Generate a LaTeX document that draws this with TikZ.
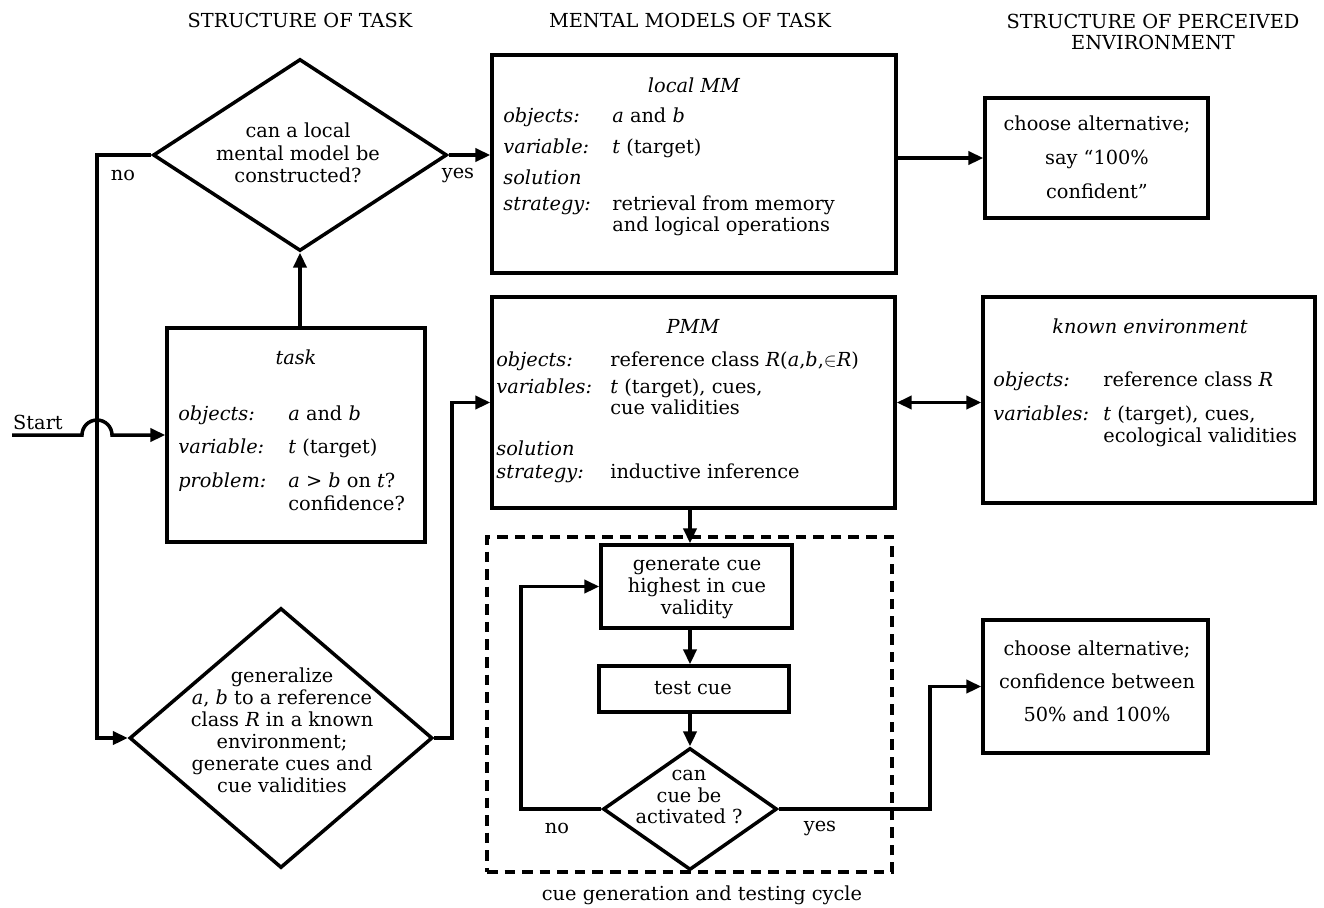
\documentclass[tikz,border=0pt]{standalone}
\usepackage{fontspec}
\setmainfont{DejaVu Serif}
\usetikzlibrary{shapes.geometric,arrows.meta,fit}
\newcommand\myfs{\fontsize{11}{12.8}\selectfont}
\begin{document}
\begin{tikzpicture}[x=0.02cm,y=-0.02cm,
  box/.style={draw, line width=2pt, inner sep=0pt},
  dashbox/.style={draw, line width=2pt, inner sep=0pt, dash pattern=on 6pt off 4pt},
  dia/.style={draw, diamond, line width=2pt, inner sep=0pt},
  conn/.style={line width=2pt, -{Triangle[length=8.5pt,width=7.5pt]}},
  dconn/.style={line width=2pt, {Triangle[length=8.5pt,width=7.5pt]}-{Triangle[length=8.5pt,width=7.5pt]}},
  txt/.style={inner sep=0pt, font=\myfs},
  ttl/.style={inner sep=0pt, font=\myfs\itshape, anchor=base},
  lab/.style={inner sep=0pt, font=\myfs\itshape, anchor=base west},
  val/.style={inner sep=0pt, font=\myfs, anchor=base west}]
\useasboundingbox (0,0) rectangle (1324,907);

% headers
\node[txt] (h1) at (300,20) {STRUCTURE OF TASK};
\node[txt] (h2) at (690,20) {MENTAL MODELS OF TASK};
\node[txt, align=center, font=\fontsize{11}{12}\selectfont] (h3) at (1153,32) {STRUCTURE OF PERCEIVED\\ENVIRONMENT};

% top diamond
\node[dia, minimum width=5.88cm, minimum height=3.84cm] (q1) at (300,155) {};
\node[txt, align=center] (q1t) at (298,153) {can a local\\mental model be\\constructed?};
\node[txt] (no1) at (123,175) {no};
\node[txt] (yes1) at (458,175) {yes};

% task box
\node[box, fit={(167,328)(425,542)}] (task) {};
\node[ttl] (taskT) at (296,364) {task};
\node[lab] (tl1) at (178,420) {objects:};
\node[val] (tv1) at (288,420) {\textit{a} and \textit{b}};
\node[lab] (tl2) at (178,453) {variable:};
\node[val] (tv2) at (288,453) {\textit{t} (target)};
\node[lab] (tl3) at (178,487) {problem:};
\node[val] (tv3) at (288,487) {\textit{a} > \textit{b} on \textit{t}?};
\node[val] (tv4) at (288,510) {confidence?};

% start
\node[txt] (start) at (38,422) {Start};
\coordinate (st) at (12,435);

% bottom diamond
\node[dia, minimum width=6.06cm, minimum height=5.2cm] (q2) at (281,738) {};
\node[txt, align=center, font=\fontsize{11}{12.5}\selectfont] (q2t) at (282,730) {generalize\\\textit{a}, \textit{b} to a reference\\class \textit{R} in a known\\environment;\\generate cues and\\cue validities};

% local MM
\node[box, fit={(492,55)(896,273)}] (lmm) {};
\node[ttl] (lmmT) at (694,92) {local MM};
\node[lab] (ll1) at (503,122) {objects:};
\node[val] (lv1) at (612,122) {\textit{a} and \textit{b}};
\node[lab] (ll2) at (503,153) {variable:};
\node[val] (lv2) at (612,153) {\textit{t} (target)};
\node[lab] (ll3) at (503,184) {solution};
\node[lab] (ll4) at (503,210) {strategy:};
\node[val] (lv3) at (612,210) {retrieval from memory};
\node[val] (lv4) at (612,231) {and logical operations};

% choose 1
\node[box, fit={(985,98)(1208,218)}] (ch1) {};
\node[txt, align=center, font=\fontsize{11}{19.3}\selectfont] (ch1t) at (1097,157) {choose alternative;\\say “100\%\\confident”};

% PMM
\node[box, fit={(492,297)(895,508)}] (pmm) {};
\node[ttl] (pmmT) at (693,333) {PMM};
\node[lab] (pl1) at (496,366) {objects:};
\node[val] (pv1) at (610,366) {reference class \textit{R}(\textit{a},\textit{b},$\in$\textit{R})};
\node[lab] (pl2) at (496,393) {variables:};
\node[val] (pv2) at (610,393) {\textit{t} (target), cues,};
\node[val] (pv3) at (610,414) {cue validities};
\node[lab] (pl3) at (496,455) {solution};
\node[lab] (pl4) at (496,478) {strategy:};
\node[val] (pv4) at (610,478) {inductive inference};

% known environment
\node[box, fit={(983,297)(1315,503)}] (known) {};
\node[ttl] (knT) at (1150,333) {known environment};
\node[lab] (kl1) at (993,386) {objects:};
\node[val] (kv1) at (1103,386) {reference class \textit{R}};
\node[lab] (kl2) at (993,420) {variables:};
\node[val] (kv2) at (1103,420) {\textit{t} (target), cues,};
\node[val] (kv3) at (1103,442) {ecological validities};

% cycle
\node[dashbox, fit={(487,537)(892,872)}] (cyc) {};
\node[txt] (cap) at (702,895) {cue generation and testing cycle};
\node[box, fit={(601,545)(792,628)}] (gen) {};
\node[txt, align=center, font=\fontsize{11}{12.3}\selectfont] (gent) at (697,588) {generate cue\\highest in cue\\validity};
\node[box, fit={(599,666)(789,712)}] (test) {};
\node[txt] (testt) at (693,688) {test cue};
\node[dia, minimum width=3.48cm, minimum height=2.44cm] (q3) at (690,809) {};
\node[txt, align=center, font=\fontsize{11}{12.5}\selectfont] (q3t) at (689,797) {can\\cue be\\activated ?};
\node[txt] (no2) at (557,828) {no};
\node[txt] (yes2) at (820,828) {yes};

% choose 2
\node[box, fit={(983,620)(1208,753)}] (ch2) {};
\node[txt, align=center, font=\fontsize{11}{18.8}\selectfont] (ch2t) at (1097,681) {choose alternative;\\confidence between\\50\% and 100\%};

% helper coordinates
\coordinate (xL) at (97,400);
\coordinate (xR) at (452,600);
\coordinate (ax) at (690,0);
\coordinate (xLoop) at (521,700);
\coordinate (xY) at (930,750);
\coordinate (hopA) at (82,435);

% connectors
\draw[conn] (q1.south |- task.north) -- (q1.south);
\draw[conn] (q1.east) -- (q1.east -| lmm.west);
\draw[conn] (lmm.east |- ch1.west) -- (ch1.west);
\draw[conn] (q1.west) -| (xL) |- (q2.west);
\draw[conn] (st) -- (hopA) arc[start angle=180, end angle=0, radius=0.3cm] -- (task.west |- st);
\draw[conn] (q2.east) -| (xR) |- (pmm.west);
\draw[dconn] (pmm.east) -- (pmm.east -| known.west);
\draw[conn] (pmm.south -| ax) -- (gen.north -| ax);
\draw[conn] (gen.south -| ax) -- (test.north -| ax);
\draw[conn] (test.south -| ax) -- (q3.north);
\draw[conn] (q3.west) -| (xLoop) |- (gen.west);
\draw[conn] (q3.east) -| (xY) |- (ch2.west);
\end{tikzpicture}
\end{document}
